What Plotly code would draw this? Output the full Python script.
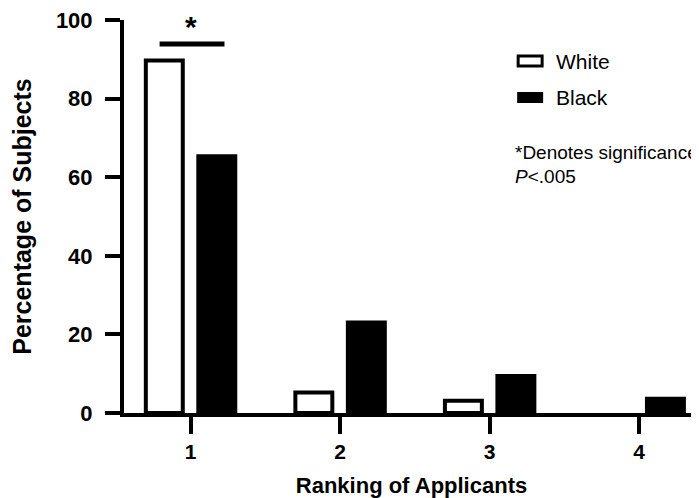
import plotly.graph_objects as go

# ---- data ----
rankings = [1, 2, 3, 4]
rank_labels = ["1", "2", "3", "4"]
white_pct = [89.7, 5.2, 3.1, 0.0]
black_pct = [65.3, 23.0, 9.4, 3.6]
series_names = ["White", "Black"]
y_ticks = [0, 20, 40, 60, 80, 100]
note_lines = ["*Denotes significance", "<i>P</i><.005"]

OFF = 8
W, H = 699 - OFF, 498 - OFF
L, R, T, B = 123.5 - OFF, 0, 20 - OFF, 85
PW, PH = W - L - R, H - T - B


def px(x):  # page pixel -> paper
    return (x - OFF - L) / PW


def py(y):
    return (H - B - (y - OFF)) / PH


FONT = "Liberation Sans, Arial, sans-serif"

fig = go.Figure()
fig.add_trace(go.Bar(
    x=rankings, y=white_pct, name=series_names[0],
    marker=dict(color="white",
                line=dict(color="black", width=[4 if v > 0 else 0 for v in white_pct])),
    showlegend=False,
))
fig.add_trace(go.Bar(
    x=rankings, y=black_pct, name=series_names[1],
    marker=dict(color="black",
                line=dict(color="black", width=[4 if v > 0 else 0 for v in black_pct])),
    showlegend=False,
))

fig.update_layout(
    width=W, height=H,
    margin=dict(l=L, r=R, t=T, b=B, autoexpand=False),
    paper_bgcolor="white", plot_bgcolor="white",
    barmode="group", bargap=0.298, bargroupgap=0.296,
    font=dict(family=FONT, color="black"),
)

fig.update_xaxes(
    range=[0.555, 4.40], tickvals=rankings, ticktext=rank_labels,
    showline=True, linecolor="black", linewidth=4,
    ticks="outside", ticklen=17, tickwidth=4, tickcolor="black",
    tickfont=dict(size=21, family=FONT, weight="bold"),
    ticklabeloverflow="allow",
    showgrid=False, zeroline=False,
    title=dict(text="<b>Ranking of Applicants</b>", font=dict(size=22), standoff=18),
)
fig.update_yaxes(
    range=[0, 100], tickvals=y_ticks,
    showline=True, linecolor="black", linewidth=4,
    ticks="outside", ticklen=15, tickwidth=4, tickcolor="black",
    tickfont=dict(size=22, family=FONT, weight="bold"),
    ticklabelstandoff=8, ticklabeloverflow="allow",
    showgrid=False, zeroline=False,
    title=dict(text="<b>Percentage of Subjects</b>", font=dict(size=25), standoff=30),
)

# significance marker
fig.add_shape(type="line", xref="x", yref="y", x0=0.793, x1=1.227, y0=93.9, y1=93.9,
              line=dict(color="black", width=5))
fig.add_annotation(x=1, y=98.3, xref="x", yref="y", text="<b>*</b>", showarrow=False,
                   font=dict(size=30, family=FONT), yanchor="middle")

# legend (manual)
fig.add_shape(type="rect", xref="paper", yref="paper",
              x0=px(518), x1=px(542), y0=py(56), y1=py(66),
              line=dict(color="black", width=3), fillcolor="white")
fig.add_shape(type="rect", xref="paper", yref="paper",
              x0=px(517), x1=px(543), y0=py(92), y1=py(103),
              line=dict(color="black", width=0), fillcolor="black")
fig.add_annotation(x=px(554), y=py(62), xref="paper", yref="paper", text=series_names[0],
                   showarrow=False, xanchor="left", yanchor="middle", font=dict(size=21))
fig.add_annotation(x=px(554), y=py(97), xref="paper", yref="paper", text=series_names[1],
                   showarrow=False, xanchor="left", yanchor="middle", font=dict(size=21))
fig.add_annotation(x=px(513), y=py(152), xref="paper", yref="paper", text=note_lines[0],
                   showarrow=False, xanchor="left", yanchor="middle", font=dict(size=19))
fig.add_annotation(x=px(513), y=py(177), xref="paper", yref="paper", text=note_lines[1],
                   showarrow=False, xanchor="left", yanchor="middle", font=dict(size=19))

fig.write_html("out.html")
